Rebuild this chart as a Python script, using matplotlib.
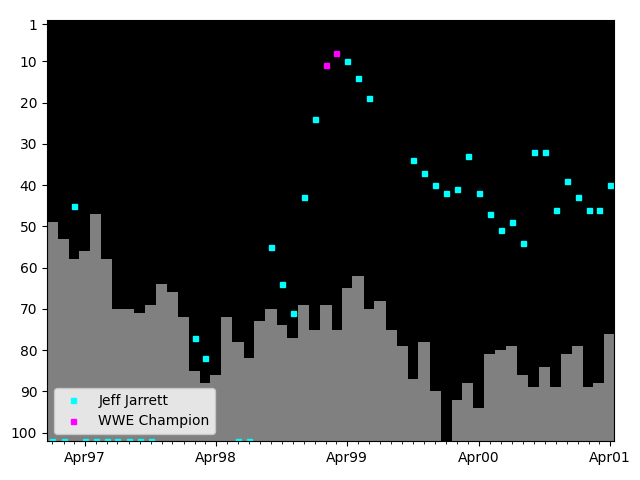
import matplotlib
matplotlib.use("Agg")
import matplotlib.pyplot as plt
import matplotlib.dates as mdates
import numpy as np
import datetime as dt

# Monthly bar data (Jan 1997 .. Apr 2001), rank values; NaN = no bar
months = [dt.date(1997 + (i // 12), i % 12 + 1, 1) for i in range(52)]
bar_values = [49, 53, 58, 56, 47, 58, 70, 70, 71, 69, 64, 66,
              72, 85, 88, 86, 72, 78, 82, 73, 70, 74, 77, 69,
              75, 69, 75, 65, 62, 70, 68, 75, 79, 87, 78, 90,
              np.nan, 92, 88, 94, 81, 80, 79, 86, 89, 84, 89, 81,
              79, 89, 88, 76]

# Jeff Jarrett points (month index from Jan 1997, rank); 102 = off chart
jj_idx = [0, 1, 2, 3, 4, 5, 6, 7, 8, 9, 13, 14, 17, 18, 20, 21, 22, 23, 24,
          27, 28, 29, 33, 34, 35, 36, 37, 38, 39, 40, 41, 42, 43, 44, 45,
          46, 47, 48, 49, 50, 51]
jj_rank = [102, 102, 45, 102, 102, 102, 102, 102, 102, 102, 77, 82, 102, 102,
           55, 64, 71, 43, 24, 10, 14, 19, 34, 37, 40, 42, 41, 33, 42, 47,
           51, 49, 54, 32, 32, 46, 39, 43, 46, 46, 40]

# WWE Champion points
wc_idx = [25, 26]
wc_rank = [11, 8]

bottom_rank = 102

fig = plt.figure(figsize=(6.4, 4.8), dpi=100)
ax = fig.add_axes([47 / 640, 1 - 441 / 480, (614 - 47) / 640, (441 - 20) / 480])
ax.set_facecolor("black")

bx = mdates.date2num(months)
bv = np.array(bar_values, dtype=float)
ax.bar(bx, bv - bottom_rank, bottom=bottom_rank, width=31.5, color="gray",
       align="center", linewidth=0)

jx = [bx[i] for i in jj_idx]
wx = [bx[i] for i in wc_idx]
ax.plot(jx, jj_rank, linestyle="none", marker="s", markersize=3.6,
        color="cyan", label="Jeff Jarrett")
ax.plot(wx, wc_rank, linestyle="none", marker="s", markersize=3.6,
        color="magenta", label="WWE Champion")

ax.set_ylim(bottom_rank, 0)
ax.set_yticks([1, 10, 20, 30, 40, 50, 60, 70, 80, 90, 100])
ax.set_xlim(mdates.date2num(dt.date(1996, 12, 17)), mdates.date2num(dt.date(2001, 4, 12)))

ax.xaxis.set_major_locator(mdates.MonthLocator(bymonth=4))
ax.xaxis.set_major_formatter(mdates.DateFormatter("%b%y"))
ax.xaxis.set_minor_locator(mdates.MonthLocator())

ax.legend(loc="lower left")

fig.savefig("out.png", dpi=100)
